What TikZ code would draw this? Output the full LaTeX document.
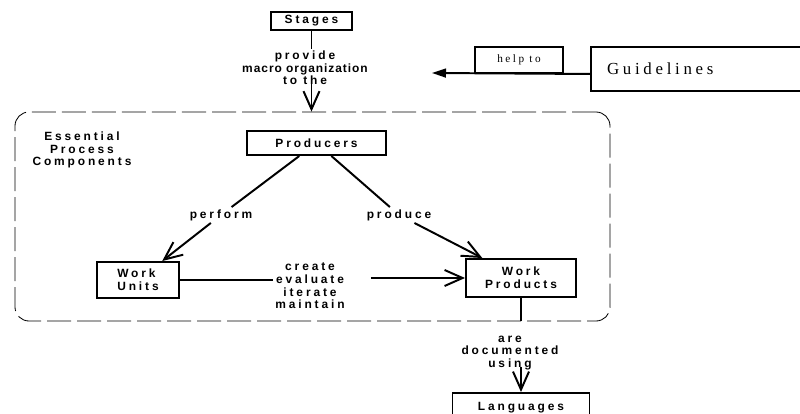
\documentclass[tikz,border=0pt]{standalone}
\usepackage{fontspec}
\usetikzlibrary{arrows.meta}
\newfontfamily\lblfont[LetterSpace=24]{Liberation Sans}
\newfontfamily\guidefont[LetterSpace=22]{Liberation Serif}

\tikzset{
  box/.style={draw, line width=1.4pt, inner sep=0pt, font=\lblfont\bfseries\fontsize{8.5}{9}\selectfont},
  lbl/.style={align=center, inner sep=1pt, font=\lblfont\bfseries\fontsize{8.5}{9}\selectfont},
  barb/.style={-{Straight Barb[length=4.5mm,width=4mm]}},
}

\begin{document}
\begin{tikzpicture}[x=0.25mm, y=-0.25mm, line width=1.4pt]
	\useasboundingbox (0,0) rectangle (800,414);
	\clip (0,0) rectangle (800,414);
%	the process components
	\node (epc) [draw, line width=0.6pt, dash pattern=on 6mm off 1.5mm, rounded corners=3.5mm, minimum width=148.75mm, minimum height=52.25mm] at (312.5,216.5) {};
	\node (eplbl) [lbl] at (82,150) {Essential\\Process\\Components};
	\node (producers) [box, minimum width=34.75mm, minimum height=6mm] at (316.5,143) {Producers};
	\node (perform) [lbl] at (221,215) {perform};
	\node (produce) [lbl] at (399,215) {produce};
	\node (units) [box, minimum width=20.5mm, minimum height=9mm, align=left] at (138,280) {Work\\Units};
	\node (wprod) [box, minimum width=27.5mm, minimum height=9.5mm, align=center] at (521,278) {Work\\Products};
	\node (cevi) [lbl] at (310,286) {create\\evaluate\\iterate\\maintain};
	\draw (producers) -- (perform);
	\draw [barb] (perform) -- (units);
	\draw (producers) -- (produce);
	\draw [barb] (produce) -- (wprod);
	\draw (units.east) -- (units.east -| cevi.west);
	\draw [barb, shorten <=6mm] (wprod.west -| cevi.east) -- (wprod.west);

%	stages on top
	\node (stages) [box, minimum width=20.25mm, minimum height=4.5mm] at (311.5,21) {Stages};
	\node (macro) [lbl] at (305,68) {provide\\{\addfontfeatures{LetterSpace=8}macro organization}\\to the};
	\draw (stages.south) -- (stages.south |- macro.north);
	\draw [barb, shorten <=-1.5mm] (stages.south |- macro.south) -- (stages.south |- epc.north);

%	guidelines
	\node (guide) [draw, minimum width=60mm, minimum height=11mm, text width=52mm, align=left, font=\guidefont\fontsize{12}{14}\selectfont] at (711,69) {Guidelines};
	\node (help) [draw, minimum width=22mm, minimum height=6.5mm, inner sep=0pt, font=\guidefont\fontsize{8}{9}\selectfont] at (519,60) {help to};
	\coordinate (tip) at (432,73);
	\draw [-{Triangle[length=3.5mm,width=2.2mm]}] (help.south -| guide.west) -- (tip);

%	languages
	\node (docu) [lbl] at (510,353) {are\\documented\\using};
	\node (lang) [box, minimum width=34.25mm, minimum height=7.5mm] at (521,408) {Languages};
	\draw [shorten >=3mm] (wprod.south) -- (wprod.south |- docu.north);
	\draw [barb, shorten <=-1.5mm] (wprod.south |- docu.south) -- (lang.north);

\end{tikzpicture}
\end{document}
